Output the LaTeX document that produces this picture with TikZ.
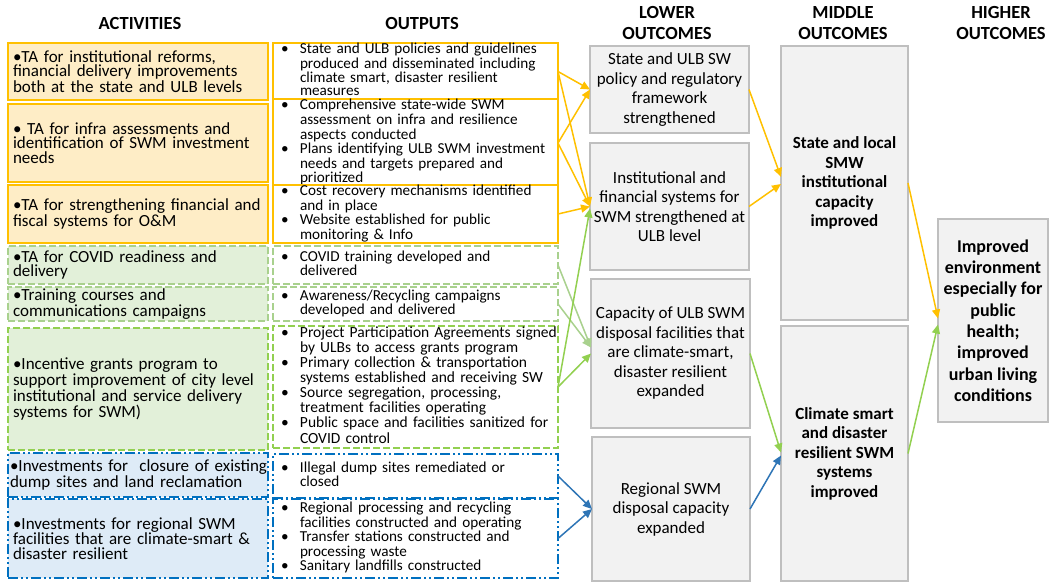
\documentclass[tikz,border=0pt]{standalone}
\usepackage{fontspec}
\setmainfont{Carlito}
\usetikzlibrary{arrows.meta,calc}

\definecolor{cGold}{HTML}{FFC000}
\definecolor{cGoldFill}{HTML}{FEEDC6}
\definecolor{cSage}{HTML}{A9D18E}
\definecolor{cSageFill}{HTML}{E2F0D9}
\definecolor{cLime}{HTML}{92D050}
\definecolor{cAzure}{HTML}{0070C0}
\definecolor{cAzureFill}{HTML}{DEEBF7}
\definecolor{cArrowBlue}{HTML}{2E75B6}
\definecolor{cBoxGray}{HTML}{F2F2F2}
\definecolor{cEdgeGray}{HTML}{BFBFBF}

\newcommand{\bl}{\textbullet}

\tikzset{
  boxbase/.style={rectangle, inner sep=0pt, outer sep=0pt},
  actbox/.style={boxbase, minimum width=260pt, text width=250pt, inner xsep=5pt,
    align=left, font=\fontsize{17}{14.5}\selectfont},
  outbox/.style={boxbase, minimum width=285pt, text width=269pt, inner xsep=8pt,
    align=left, font=\fontsize{15.2}{13.3}\selectfont},
  goldline/.style={draw=cGold, line width=1.8pt},
  sageline/.style={draw=cSage, line width=1.6pt, dash pattern=on 7pt off 3pt},
  limeline/.style={draw=cLime, line width=1.6pt, dash pattern=on 7pt off 3pt},
  azureline/.style={draw=cAzure, line width=1.5pt,
    dash pattern=on 10pt off 3pt on 2pt off 3pt on 2pt off 3pt},
  outcome/.style={boxbase, draw=cEdgeGray, line width=1.5pt, fill=cBoxGray, align=center},
  lowtext/.style={font=\fontsize{17}{19.5}\selectfont},
  midtext/.style={font=\bfseries\fontsize{17}{19.5}\selectfont},
  hightext/.style={font=\bfseries\fontsize{18}{21.3}\selectfont},
  header/.style={align=center, font=\bfseries\fontsize{18.5}{20.7}\selectfont},
  link/.style={line width=1.5pt, -{Triangle[length=9pt,width=8pt]}},
  goldlink/.style={link, draw=cGold, fill=cGold},
  sagelink/.style={link, draw=cSage, fill=cSage},
  limelink/.style={link, draw=cLime, fill=cLime},
  bluelink/.style={link, draw=cArrowBlue, fill=cArrowBlue},
}

\newcommand{\blist}[1]{\begin{tabular}{@{}p{19pt}@{}l@{}}#1\end{tabular}}

\begin{document}
\begin{tikzpicture}[x=1pt, y=-1pt]
\useasboundingbox (0,0) rectangle (1049,582);

% column headings
\node[header] (hAct) at (140,23) {ACTIVITIES};
\node[header] (hOut) at (422,23) {OUTPUTS};
\node[header] (hLow) at (667,23) {LOWER\\OUTCOMES};
\node[header] (hMid) at (843,23) {MIDDLE\\OUTCOMES};
\node[header] (hHigh) at (1001,23) {HIGHER\\OUTCOMES};

% activities
\node[actbox, goldline, fill=cGoldFill, minimum height=57pt] (a1) at (138,71.5)
  {\bl TA for institutional reforms,\\financial delivery improvements\\both at the state and ULB levels};
\node[actbox, goldline, fill=cGoldFill, minimum height=78pt] (a2) at (138,143)
  {\bl\ TA for infra assessments and\\identification of SWM investment\\needs};
\node[actbox, goldline, fill=cGoldFill, minimum height=58pt] (a3) at (138,214)
  {\bl TA for strengthening financial and\\fiscal systems for O\&M};
\node[actbox, sageline, fill=cSageFill, minimum height=38pt] (a4) at (138,265)
  {\bl TA for COVID readiness and\\delivery};
\node[actbox, sageline, fill=cSageFill, minimum height=34pt] (a5) at (138,304)
  {\bl Training courses and\\communications campaigns};
\node[actbox, limeline, fill=cSageFill, minimum height=122pt] (a6) at (138,389)
  {\bl Incentive grants program to\\support improvement of city level\\institutional and service delivery\\systems for SWM)};
\node[actbox, azureline, fill=cAzureFill, minimum height=44pt, inner xsep=2pt, text width=256pt] (a7) at (138,475)
  {\mbox{\bl Investments for\ \ closure of existing}\\dump sites and land reclamation};
\node[actbox, azureline, fill=cAzureFill, minimum height=79pt] (a8) at (138,538.5)
  {\bl Investments for regional SWM\\facilities that are climate-smart \&\\disaster resilient};

% outputs
\node[outbox, goldline, fill=white, minimum height=57pt] (o1) at (415.5,71.5)
  {\blist{\bl & State and ULB policies and guidelines\\
               & produced and disseminated including\\
               & climate smart, disaster resilient\\
               & measures}};
\node[outbox, goldline, fill=white, minimum height=78pt] (o2) at (415.5,143)
  {\blist{\bl & Comprehensive state-wide SWM\\
               & assessment on infra and resilience\\
               & aspects conducted\\
           \bl & Plans identifying ULB SWM investment\\
               & needs and targets prepared and\\
               & prioritized}};
\node[outbox, goldline, fill=white, minimum height=58pt] (o3) at (415.5,214)
  {\blist{\bl & Cost recovery mechanisms identified\\
               & and in place\\
           \bl & Website established for public\\
               & monitoring \& Info}};
\node[outbox, sageline, fill=white, minimum height=38pt] (o4) at (415.5,265)
  {\blist{\bl & COVID training developed and\\
               & delivered}};
\node[outbox, sageline, fill=white, minimum height=34pt] (o5) at (415.5,304)
  {\blist{\bl & Awareness/Recycling campaigns\\
               & developed and delivered}};
\node[outbox, limeline, fill=white, minimum height=122pt,
      font=\fontsize{15.5}{14.5}\selectfont] (o6) at (415.5,387)
  {\blist{\bl & Project Participation Agreements signed\\
               & by ULBs to access grants program\\
           \bl & Primary collection \& transportation\\
               & systems established and receiving SW\\
           \bl & Source segregation, processing,\\
               & treatment facilities operating\\
           \bl & Public space and facilities sanitized for\\
               & COVID control}};
\node[outbox, azureline, fill=white, minimum height=44pt] (o7) at (415.5,476)
  {\blist{\bl & Illegal dump sites remediated or\\
               & closed}};
\node[outbox, azureline, fill=white, minimum height=79pt] (o8) at (415.5,538.5)
  {\blist{\bl & Regional processing and recycling\\
               & facilities constructed and operating\\
           \bl & Transfer stations constructed and\\
               & processing waste\\
           \bl & Sanitary landfills constructed}};

% lower outcomes
\node[outcome, lowtext, minimum width=159pt, minimum height=87pt] (l1) at (669.5,89.5)
  {State and ULB SW\\policy and regulatory\\framework\\strengthened};
\node[outcome, lowtext, minimum width=159pt, minimum height=127pt] (l2) at (669.5,206.5)
  {Institutional and\\financial systems for\\SWM strengthened at\\ULB level};
\node[outcome, lowtext, minimum width=159pt, minimum height=149pt] (l3) at (670.5,353.5)
  {Capacity of ULB SWM\\disposal facilities that\\are climate-smart,\\disaster resilient\\expanded};
\node[outcome, lowtext, minimum width=158pt, minimum height=144pt] (l4) at (671,509)
  {Regional SWM\\disposal capacity\\expanded};

% middle outcomes
\node[outcome, midtext, minimum width=127pt, minimum height=274pt] (m1) at (844.5,183)
  {State and local\\SMW\\institutional\\capacity\\improved};
\node[outcome, midtext, minimum width=127pt, minimum height=255pt] (m2) at (844.5,453.5)
  {Climate smart\\and disaster\\resilient SWM\\systems\\improved};

% higher outcome
\node[outcome, hightext, minimum width=110pt, minimum height=203pt] (h) at (993,320.5)
  {Improved\\environment\\especially for\\public\\health;\\improved\\urban living\\conditions};

% outputs to lower outcomes
\draw[goldlink] (o1.east) -- (l1.west);
\draw[goldlink] (o1.east) -- (l2.west);
\draw[goldlink] (o2.east) -- (l1.west);
\draw[goldlink] (o2.east) -- (l2.west);
\draw[goldlink] (o3.east) -- (l2.west);
\draw[sagelink] (o4.east) -- ($(l3.west)+(0,-6)$);
\draw[sagelink] (o5.east) -- ($(l3.west)+(0,-6)$);
\draw[limelink] (o6.east) -- (l3.west);
\draw[limelink] (o6.east) -- ($(l2.west)+(0,2)$);
\draw[bluelink] (o7.east) -- (l4.west);
\draw[bluelink] (o8.east) -- (l4.west);

% lower to middle outcomes
\draw[goldlink] (l1.east) -- ($(m1.west)+(0,-6)$);
\draw[goldlink] (l2.east) -- ($(m1.west)+(0,1)$);
\draw[limelink] (l3.east) -- ($(m2.west)+(0,-1)$);
\draw[bluelink] (l4.east) -- ($(m2.west)+(0,2)$);

% middle to higher outcome
\draw[goldlink] (m1.east) -- ($(h.west)+(0,-2)$);
\draw[limelink] (m2.east) -- ($(h.west)+(0,4)$);
\end{tikzpicture}
\end{document}
